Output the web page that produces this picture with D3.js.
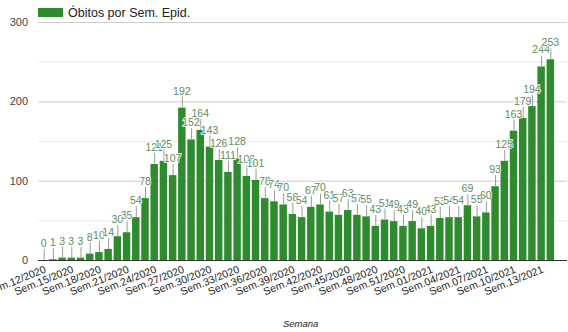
<!DOCTYPE html>
<html><head><meta charset="utf-8">
<script src="https://cdn.jsdelivr.net/npm/d3@7"></script>
<style>body{margin:0;background:#fff}svg{font-family:Arial,"Liberation Sans",sans-serif}</style>
</head><body><svg id="c" width="568" height="332"></svg>
<script>
const weeks = ["12/2020","13/2020","14/2020","15/2020","16/2020","17/2020","18/2020","19/2020","20/2020","21/2020",
"22/2020","23/2020","24/2020","25/2020","26/2020","27/2020","28/2020","29/2020","30/2020","31/2020",
"32/2020","33/2020","34/2020","35/2020","36/2020","37/2020","38/2020","39/2020","40/2020","41/2020",
"42/2020","43/2020","44/2020","45/2020","46/2020","47/2020","48/2020","49/2020","50/2020","51/2020",
"52/2020","53/2020","01/2021","02/2021","03/2021","04/2021","05/2021","06/2021","07/2021","08/2021",
"09/2021","10/2021","11/2021","12/2021","13/2021","14/2021"];
const obitos = [0,1,3,3,3,8,10,14,30,35,
54,78,121,125,107,192,152,164,143,126,
111,128,106,101,78,74,70,58,54,67,
70,61,57,63,57,55,43,51,49,43,
49,40,43,53,54,54,69,55,60,93,
125,163,179,194,244,253];
const yTicks = [0,100,200,300];
const yMinor = [50,150,250];
const seriesName = "Óbitos por Sem. Epid.";
const axisTitle = "Semana";

const svg = d3.select("#c");
const x = d3.scaleBand().domain(weeks).range([39,555]).paddingInner(0.19).paddingOuter(0.1);
const y = d3.scaleLinear().domain([0,300]).range([260,22]);
const green = "#2e8b2e";

// gridlines
svg.append("g").selectAll("line").data(yMinor).join("line")
  .attr("x1",38).attr("x2",567).attr("y1",d=>y(d)+0.5).attr("y2",d=>y(d)+0.5)
  .attr("stroke","#ebebeb");
svg.append("g").selectAll("line").data(yTicks.filter(d=>d>0)).join("line")
  .attr("x1",38).attr("x2",567).attr("y1",d=>y(d)+0.5).attr("y2",d=>y(d)+0.5)
  .attr("stroke","#cccccc");

// y labels
svg.append("g").selectAll("text").data(yTicks).join("text")
  .attr("x",28).attr("y",d=>y(d)+4).attr("text-anchor","end")
  .attr("font-size",11).attr("fill","#444").text(d=>d);

// bars
svg.append("g").selectAll("rect").data(obitos).join("rect")
  .attr("x",(d,i)=>x(weeks[i])).attr("width",x.bandwidth())
  .attr("y",d=>y(d)).attr("height",d=>y(0)-y(d)).attr("fill",green);

// baseline
svg.append("line").attr("x1",38).attr("x2",567).attr("y1",y(0)+0.5).attr("y2",y(0)+0.5).attr("stroke","#333");

// annotations
const ann = svg.append("g");
ann.selectAll("line").data(obitos).join("line")
  .attr("x1",(d,i)=>x(weeks[i])+x.bandwidth()/2+0.5).attr("x2",(d,i)=>x(weeks[i])+x.bandwidth()/2+0.5)
  .attr("y1",d=>y(d)).attr("y2",d=>y(d)-11).attr("stroke","#999");
ann.selectAll("text").data(obitos).join("text")
  .attr("x",(d,i)=>x(weeks[i])+x.bandwidth()/2).attr("y",d=>y(d)-13)
  .attr("text-anchor","middle").attr("font-size",10.5).attr("fill","#5e8c5e")
  .attr("stroke","#fff").attr("stroke-width",1.5).attr("paint-order","stroke")
  .text(d=>d);

// x labels
const shown = weeks.filter((w,i)=>i%3===0 && i<55);
svg.append("g").selectAll("text").data(shown).join("text")
  .attr("transform",d=>`translate(${x(d)+x.bandwidth()/2+3},${272}) rotate(-22)`)
  .attr("text-anchor","end").attr("font-size",10.5).attr("fill","#222")
  .text(d=>"Sem."+d);

svg.append("text").attr("x",283).attr("y",327).attr("font-size",9.5).attr("font-style","italic")
  .attr("fill","#222").text(axisTitle);

// legend
svg.append("rect").attr("x",38).attr("y",8).attr("width",25).attr("height",9).attr("fill",green);
svg.append("text").attr("x",68).attr("y",17).attr("font-size",12.5).attr("fill","#222").text(seriesName);
</script></body></html>
